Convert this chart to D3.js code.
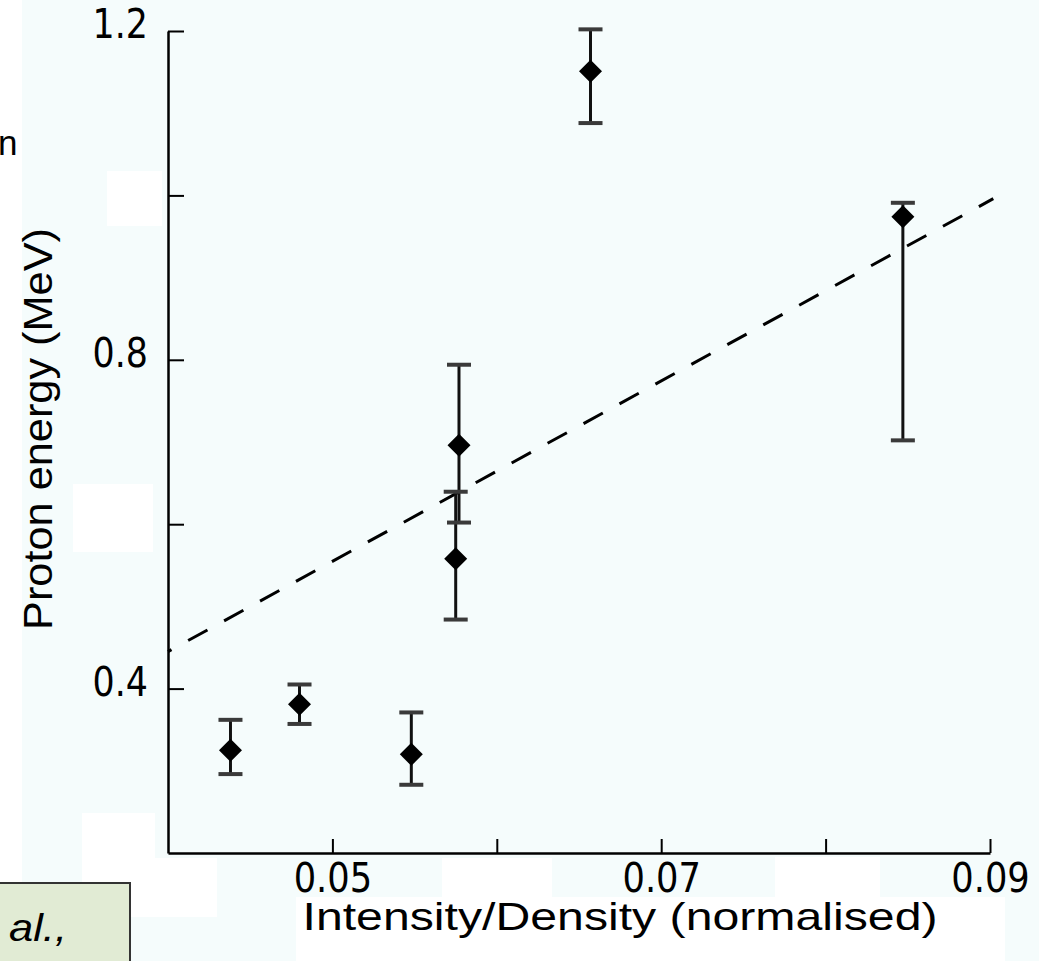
<!DOCTYPE html>
<html><head><meta charset="utf-8">
<script src="https://cdn.jsdelivr.net/npm/d3@7"></script>
<style>html,body{margin:0;padding:0;background:#f5fcfc;} svg{display:block}</style>
</head><body><svg id="c" width="1039" height="961"></svg>
<script>
// ---- data ----
const xValues = [0.0438, 0.0480, 0.0548, 0.0577, 0.0575, 0.0657, 0.0847];
const yValues = [0.325, 0.381, 0.320, 0.696, 0.558, 1.151, 0.974];
const yUpper  = [0.362, 0.405, 0.371, 0.794, 0.6395, 1.202, 0.991];
const yLower  = [0.296, 0.357, 0.283, 0.602, 0.484, 1.088, 0.702];
const fitX = [0.040, 0.0902];
const fitY = [0.445, 0.996];
const xTicks = [0.05, 0.06, 0.07, 0.08, 0.09];
const xTickLabels = ["0.05", "", "0.07", "", "0.09"];
const yTicks = [0.4, 0.6, 0.8, 1.0, 1.2];
const yTickLabels = ["0.4", "", "0.8", "", "1.2"];
const xTitle = "Intensity/Density (normalised)";
const yTitle = "Proton energy (MeV)";
const noteText = "al.,";
const clippedText = "n";

// ---- layout ----
const svg = d3.select("#c");
const W = 1039, H = 961;
const x = d3.scaleLinear().domain([0.04, 0.09]).range([168, 990]);
const y = d3.scaleLinear().domain([0.2, 1.2]).range([853, 31]);

// background patches (slide artefacts)
svg.append("rect").attr("width", W).attr("height", H).attr("fill", "#f5fcfc");
const patches = [
  [0, 0, 22, 961], [107, 171, 55, 55], [73, 484, 80, 68],
  [82, 813, 73, 104], [155, 858, 62, 59], [442, 858, 110, 39],
  [775, 857, 105, 40], [296, 897, 709, 64]
];
svg.selectAll("rect.patch").data(patches).join("rect").attr("class", "patch")
  .attr("x", d => d[0]).attr("y", d => d[1]).attr("width", d => d[2]).attr("height", d => d[3])
  .attr("fill", "#ffffff");

function squeeze(sel, f) {
  sel.each(function () {
    const L = this.getComputedTextLength();
    if (L > 0) d3.select(this).attr("textLength", L * f).attr("lengthAdjust", "spacingAndGlyphs");
  });
}

// axes
const yAxis = d3.axisLeft(y).tickValues(yTicks)
  .tickFormat((d, i) => yTickLabels[i]).tickSizeInner(-16).tickSizeOuter(0).tickPadding(20);
const gy = svg.append("g").attr("transform", `translate(${x.range()[0]},0)`).call(yAxis);
const xAxis = d3.axisBottom(x).tickValues(xTicks)
  .tickFormat((d, i) => xTickLabels[i]).tickSizeInner(-14).tickSizeOuter(0).tickPadding(10);
const gx = svg.append("g").attr("transform", `translate(0,${y.range()[0]})`).call(xAxis);

[gx, gy].forEach(g => {
  g.select(".domain").attr("stroke", "#000").attr("stroke-width", 2.5);
  g.selectAll(".tick line").attr("stroke", "#000").attr("stroke-width", 2);
  g.selectAll(".tick text").attr("fill", "#000")
    .style("font-family", "'DejaVu Sans', sans-serif").style("font-size", "41px");
});
gy.selectAll(".tick text").attr("dy", "0.17em");
squeeze(gx.selectAll(".tick text"), 0.86);
squeeze(gy.selectAll(".tick text"), 0.85);

// fit line
const line = d3.line().x(d => x(d[0])).y(d => y(d[1]));
svg.append("path").datum(fitX.map((v, i) => [v, fitY[i]]))
  .attr("d", line).attr("fill", "none").attr("stroke", "#000")
  .attr("stroke-width", 3).attr("stroke-dasharray", "22,19").attr("stroke-dashoffset", 18);

// error bars
const pts = xValues.map((v, i) => ({x: v, y: yValues[i], hi: yUpper[i], lo: yLower[i]}));
const eb = svg.append("g");
eb.selectAll("line.v").data(pts).join("line").attr("class", "v")
  .attr("x1", d => x(d.x)).attr("x2", d => x(d.x))
  .attr("y1", d => y(d.hi)).attr("y2", d => y(d.lo))
  .attr("stroke", "#111").attr("stroke-width", 3);
const capW = 12;
["hi", "lo"].forEach(k => {
  eb.selectAll("line.c" + k).data(pts).join("line").attr("class", "c" + k)
    .attr("x1", d => x(d.x) - capW).attr("x2", d => x(d.x) + capW)
    .attr("y1", d => y(d[k])).attr("y2", d => y(d[k]))
    .attr("stroke", "#3a3a3a").attr("stroke-width", 4);
});

// diamond markers
const r = 11.5;
svg.append("g").selectAll("path").data(pts).join("path")
  .attr("d", d => {
    const cx = x(d.x), cy = y(d.y);
    return `M${cx},${cy - r}L${cx + r},${cy}L${cx},${cy + r}L${cx - r},${cy}Z`;
  })
  .attr("fill", "#000");

// titles
const xt = svg.append("text").text(xTitle)
  .attr("x", 620).attr("y", 930).attr("text-anchor", "middle")
  .style("font-family", "'Liberation Sans', Arial, sans-serif").style("font-size", "39px").attr("fill", "#000");
xt.attr("textLength", 635).attr("lengthAdjust", "spacingAndGlyphs");

const yt = svg.append("text").text(yTitle)
  .attr("transform", "translate(52,429) rotate(-90)").attr("text-anchor", "middle")
  .style("font-family", "'Liberation Sans', Arial, sans-serif").style("font-size", "40px").attr("fill", "#000");
yt.attr("textLength", 402).attr("lengthAdjust", "spacingAndGlyphs");

// clipped fragment on the left
svg.append("text").text(clippedText).attr("x", -2).attr("y", 155)
  .style("font-family", "'Liberation Sans', Arial, sans-serif").style("font-size", "35px").attr("fill", "#000");

// note box bottom-left
svg.append("rect").attr("x", -2).attr("y", 883).attr("width", 132).attr("height", 90)
  .attr("fill", "#e1ebd4").attr("stroke", "#333").attr("stroke-width", 2);
svg.append("text").text(noteText).attr("x", 9).attr("y", 941)
  .style("font-family", "'Liberation Sans', Arial, sans-serif").style("font-style", "italic")
  .style("font-size", "38px").attr("fill", "#000")
  .attr("textLength", 58).attr("lengthAdjust", "spacingAndGlyphs");
</script></body></html>
